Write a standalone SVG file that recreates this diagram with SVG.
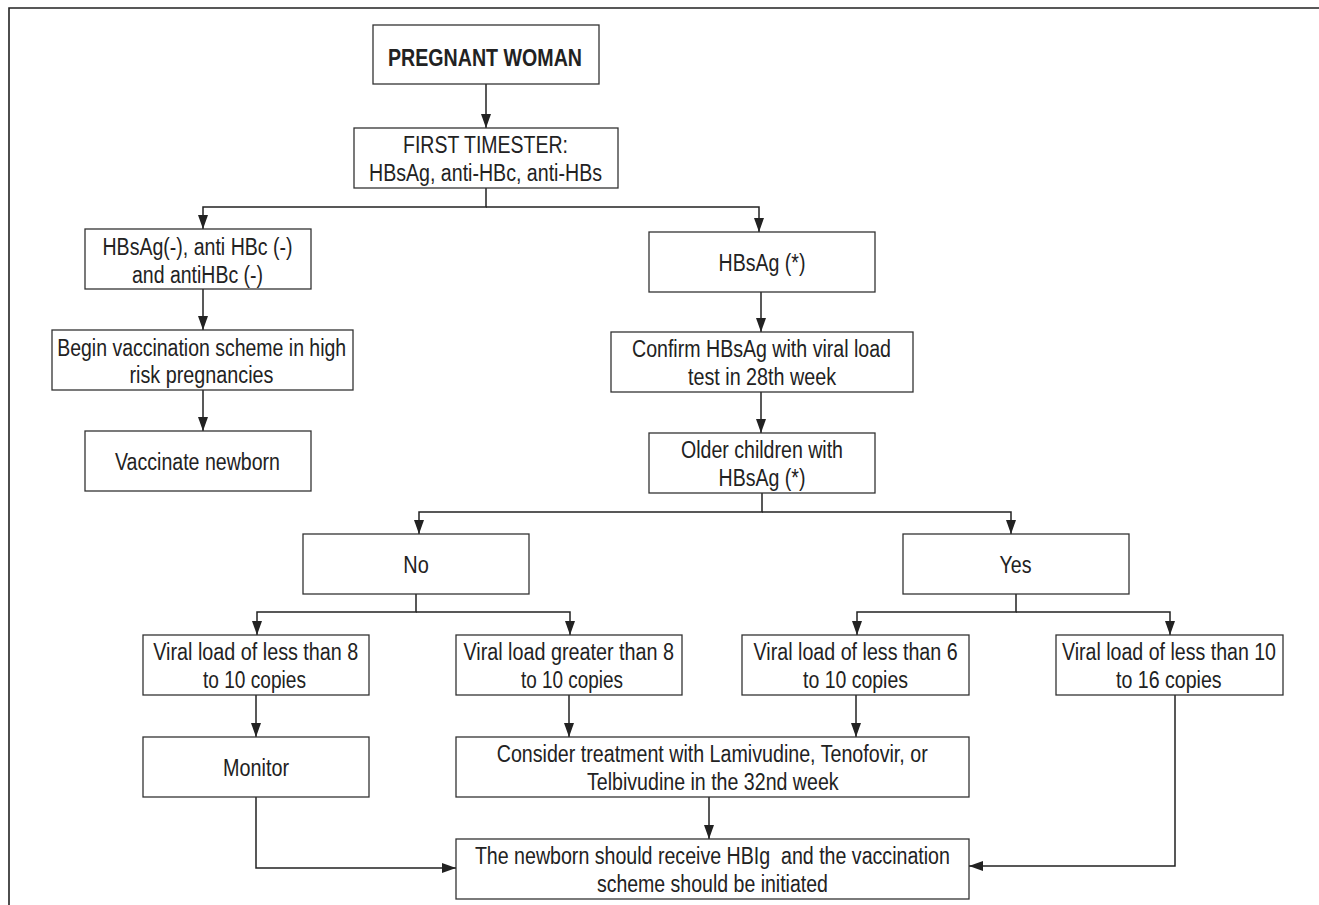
<svg xmlns="http://www.w3.org/2000/svg" width="1319" height="905" viewBox="0 0 1319 905">
<style>
.box{fill:#fff;stroke:#333;stroke-width:1.3}
.t{font-family:"Liberation Sans",Arial,sans-serif;font-size:23px;fill:#222;text-anchor:middle}
.b{font-weight:bold}
.c{fill:none;stroke:#222;stroke-width:1.5}
</style>
<defs>
<marker id="ah" markerUnits="userSpaceOnUse" markerWidth="14" markerHeight="10" refX="14" refY="5" orient="auto">
<path d="M0,0 L14,5 L0,10 z" fill="#222"/>
</marker>
</defs>
<rect width="1319" height="905" fill="#fff"/>
<path d="M9,905 V8 H1319" fill="none" stroke="#222" stroke-width="1.6"/>

<g id="connectors">
<path class="c" d="M486,84 V128" marker-end="url(#ah)"/>
<path class="c" d="M486,188 V207 H203 V229" marker-end="url(#ah)"/>
<path class="c" d="M486,207 H759 V232" marker-end="url(#ah)"/>
<path class="c" d="M203,289 V330" marker-end="url(#ah)"/>
<path class="c" d="M203,390 V431" marker-end="url(#ah)"/>
<path class="c" d="M761,292 V332" marker-end="url(#ah)"/>
<path class="c" d="M761,392 V433" marker-end="url(#ah)"/>
<path class="c" d="M762,493 V512 H419 V534" marker-end="url(#ah)"/>
<path class="c" d="M762,512 H1011 V534" marker-end="url(#ah)"/>
<path class="c" d="M416,594 V612 H257 V635" marker-end="url(#ah)"/>
<path class="c" d="M416,612 H570 V635" marker-end="url(#ah)"/>
<path class="c" d="M1016,594 V612 H857 V635" marker-end="url(#ah)"/>
<path class="c" d="M1016,612 H1170 V635" marker-end="url(#ah)"/>
<path class="c" d="M256,695 V737" marker-end="url(#ah)"/>
<path class="c" d="M569,695 V737" marker-end="url(#ah)"/>
<path class="c" d="M856,695 V737" marker-end="url(#ah)"/>
<path class="c" d="M709,797 V839" marker-end="url(#ah)"/>
<path class="c" d="M256,797 V868 H456" marker-end="url(#ah)"/>
<path class="c" d="M1175,695 V866 H969" marker-end="url(#ah)"/>
</g>

<g id="pregnant">
<rect class="box" x="373" y="25" width="226" height="59"/>
<text class="t b" x="485" y="65.5" textLength="194" lengthAdjust="spacingAndGlyphs">PREGNANT WOMAN</text>
</g>
<g id="first">
<rect class="box" x="354" y="128" width="264" height="60"/>
<text class="t" x="485.5" y="152.5" textLength="165" lengthAdjust="spacingAndGlyphs">FIRST TIMESTER:</text>
<text class="t" x="485.5" y="180.5" textLength="233" lengthAdjust="spacingAndGlyphs">HBsAg, anti-HBc, anti-HBs</text>
</g>
<g id="negative">
<rect class="box" x="85" y="229" width="226" height="60"/>
<text class="t" x="197.5" y="255" textLength="190" lengthAdjust="spacingAndGlyphs">HBsAg(-), anti HBc (-)</text>
<text class="t" x="197.5" y="283" textLength="131" lengthAdjust="spacingAndGlyphs">and antiHBc (-)</text>
</g>
<g id="begin">
<rect class="box" x="52" y="330" width="301" height="60"/>
<text class="t" x="201.7" y="356" textLength="289" lengthAdjust="spacingAndGlyphs">Begin vaccination scheme in high</text>
<text class="t" x="201.5" y="383" textLength="144" lengthAdjust="spacingAndGlyphs">risk pregnancies</text>
</g>
<g id="vaccinate">
<rect class="box" x="85" y="431" width="226" height="60"/>
<text class="t" x="197.5" y="470" textLength="165" lengthAdjust="spacingAndGlyphs">Vaccinate newborn</text>
</g>
<g id="positive">
<rect class="box" x="649" y="232" width="226" height="60"/>
<text class="t" x="762" y="271" textLength="87" lengthAdjust="spacingAndGlyphs">HBsAg (*)</text>
</g>
<g id="confirm">
<rect class="box" x="611" y="332" width="302" height="60"/>
<text class="t" x="761.5" y="357" textLength="259" lengthAdjust="spacingAndGlyphs">Confirm HBsAg with viral load</text>
<text class="t" x="762" y="385" textLength="148" lengthAdjust="spacingAndGlyphs">test in 28th week</text>
</g>
<g id="older">
<rect class="box" x="649" y="433" width="226" height="60"/>
<text class="t" x="762" y="458" textLength="162" lengthAdjust="spacingAndGlyphs">Older children with</text>
<text class="t" x="762" y="486" textLength="87" lengthAdjust="spacingAndGlyphs">HBsAg (*)</text>
</g>
<g id="no">
<rect class="box" x="303" y="534" width="226" height="60"/>
<text class="t" x="416" y="573" textLength="25.5" lengthAdjust="spacingAndGlyphs">No</text>
</g>
<g id="yes">
<rect class="box" x="903" y="534" width="226" height="60"/>
<text class="t" x="1015.6" y="573" textLength="32" lengthAdjust="spacingAndGlyphs">Yes</text>
</g>
<g id="vl-less8">
<rect class="box" x="143" y="635" width="226" height="60"/>
<text class="t" x="255.8" y="659.5" textLength="205" lengthAdjust="spacingAndGlyphs">Viral load of less than 8</text>
<text class="t" x="254.5" y="688" textLength="103" lengthAdjust="spacingAndGlyphs">to 10 copies</text>
</g>
<g id="vl-greater8">
<rect class="box" x="456" y="635" width="226" height="60"/>
<text class="t" x="568.7" y="659.5" textLength="210.5" lengthAdjust="spacingAndGlyphs">Viral load greater than 8</text>
<text class="t" x="572" y="688" textLength="102" lengthAdjust="spacingAndGlyphs">to 10 copies</text>
</g>
<g id="vl-less6">
<rect class="box" x="742" y="635" width="227" height="60"/>
<text class="t" x="855.6" y="659.5" textLength="204" lengthAdjust="spacingAndGlyphs">Viral load of less than 6</text>
<text class="t" x="855.5" y="688" textLength="105" lengthAdjust="spacingAndGlyphs">to 10 copies</text>
</g>
<g id="vl-less10">
<rect class="box" x="1056" y="635" width="227" height="60"/>
<text class="t" x="1169" y="659.5" textLength="214" lengthAdjust="spacingAndGlyphs">Viral load of less than 10</text>
<text class="t" x="1168.8" y="688" textLength="105.5" lengthAdjust="spacingAndGlyphs">to 16 copies</text>
</g>
<g id="monitor">
<rect class="box" x="143" y="737" width="226" height="60"/>
<text class="t" x="256" y="776" textLength="66" lengthAdjust="spacingAndGlyphs">Monitor</text>
</g>
<g id="treatment">
<rect class="box" x="456" y="737" width="513" height="60"/>
<text class="t" x="712.2" y="762" textLength="431" lengthAdjust="spacingAndGlyphs">Consider treatment with Lamivudine, Tenofovir, or</text>
<text class="t" x="712.8" y="790" textLength="251.6" lengthAdjust="spacingAndGlyphs">Telbivudine in the 32nd week</text>
</g>
<g id="newborn">
<rect class="box" x="456" y="839" width="513" height="60"/>
<text class="t" x="712.4" y="863.5" textLength="475" lengthAdjust="spacingAndGlyphs" xml:space="preserve">The newborn should receive HBIg  and the vaccination</text>
<text class="t" x="712.4" y="892" textLength="231" lengthAdjust="spacingAndGlyphs">scheme should be initiated</text>
</g>
</svg>
